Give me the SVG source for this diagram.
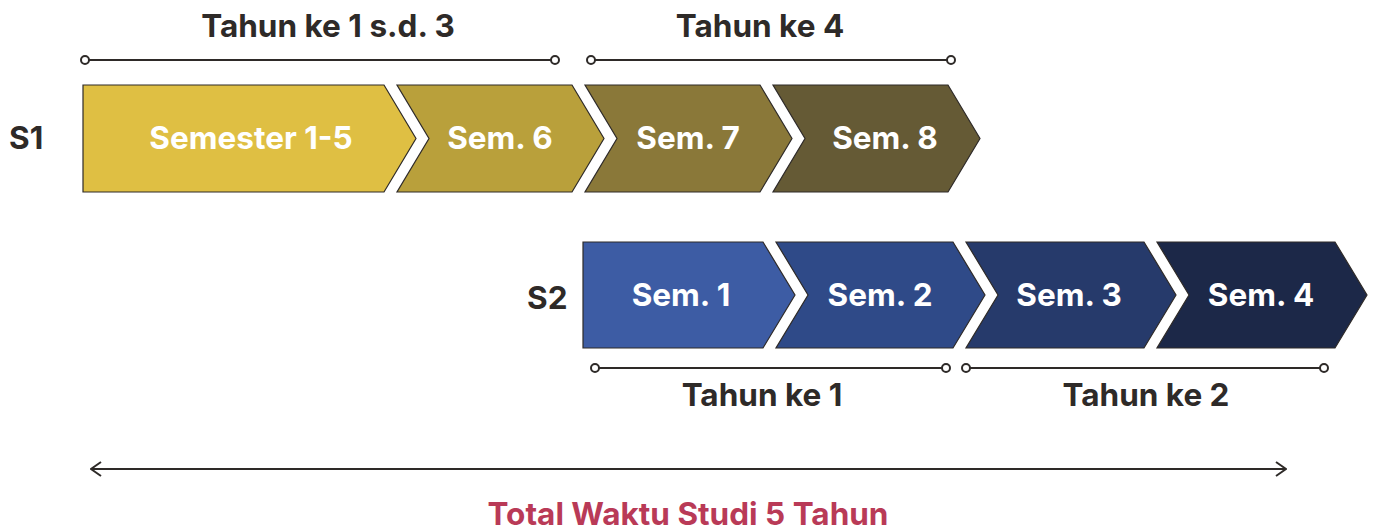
<svg xmlns="http://www.w3.org/2000/svg" width="1375" height="532" viewBox="0 0 1375 532">
<defs>
<style>
.chev{stroke:#2e2a28;stroke-width:1.2}
.lbl{font-family:Inter,"Liberation Sans",sans-serif;font-weight:700;font-size:31.5px;fill:#ffffff;text-anchor:middle}
.hdr{font-family:Inter,"Liberation Sans",sans-serif;font-weight:700;font-size:31.5px;fill:#2e2a28;text-anchor:middle}
.row{font-family:Inter,"Liberation Sans",sans-serif;font-weight:700;font-size:31.5px;fill:#2e2a28}
.tot{font-family:Inter,"Liberation Sans",sans-serif;font-weight:700;font-size:31.5px;fill:#b93a57;text-anchor:middle}
.brk{stroke:#2e2a28;stroke-width:2;fill:none}
.dot{stroke:#2e2a28;stroke-width:2;fill:#ffffff}
</style>
<marker id="ah" viewBox="0 0 12 16" refX="11" refY="8" markerWidth="12" markerHeight="16" markerUnits="userSpaceOnUse" orient="auto-start-reverse">
<path d="M1,1 L11,8 L1,15" fill="none" stroke="#2e2a28" stroke-width="2"/>
</marker>
</defs>
<rect width="1375" height="532" fill="#ffffff"/>

<text class="row" x="9" y="149">S1</text>
<text class="row" x="527" y="309">S2</text>

<g id="s1-sem1-5"><path class="chev" fill="#dfbf43" d="M83,85 L384,85 L416,138.5 L384,192 L83,192 Z"/><text class="lbl" x="251" y="149">Semester 1-5</text></g>
<g id="s1-sem6"><path class="chev" fill="#b9a03b" d="M397,85 L572,85 L604,138.5 L572,192 L397,192 L429,138.5 Z"/><text class="lbl" x="500" y="149">Sem. 6</text></g>
<g id="s1-sem7"><path class="chev" fill="#8a7839" d="M585,85 L760,85 L792,138.5 L760,192 L585,192 L617,138.5 Z"/><text class="lbl" x="688" y="149">Sem. 7</text></g>
<g id="s1-sem8"><path class="chev" fill="#655a35" d="M773,85 L948,85 L980,138.5 L948,192 L773,192 L805,138.5 Z"/><text class="lbl" x="885" y="149">Sem. 8</text></g>

<g id="s2-sem1"><path class="chev" fill="#3d5ca4" d="M583,242 L763,242 L795,295 L763,348 L583,348 Z"/><text class="lbl" x="681" y="306">Sem. 1</text></g>
<g id="s2-sem2"><path class="chev" fill="#2f4a88" d="M776,242 L953,242 L985,295 L953,348 L776,348 L808,295 Z"/><text class="lbl" x="880" y="306">Sem. 2</text></g>
<g id="s2-sem3"><path class="chev" fill="#263a6b" d="M966,242 L1144,242 L1176,295 L1144,348 L966,348 L998,295 Z"/><text class="lbl" x="1069" y="306">Sem. 3</text></g>
<g id="s2-sem4"><path class="chev" fill="#1c2848" d="M1157,242 L1335,242 L1367,295 L1335,348 L1157,348 L1189,295 Z"/><text class="lbl" x="1261" y="306">Sem. 4</text></g>

<g id="connectors">
<g id="brk-s1-y13"><line class="brk" x1="85" y1="60" x2="555" y2="60"/><circle class="dot" cx="85" cy="60" r="4"/><circle class="dot" cx="555" cy="60" r="4"/></g>
<g id="brk-s1-y4"><line class="brk" x1="591" y1="60" x2="951" y2="60"/><circle class="dot" cx="591" cy="60" r="4"/><circle class="dot" cx="951" cy="60" r="4"/></g>
<g id="brk-s2-y1"><line class="brk" x1="595" y1="368" x2="946" y2="368"/><circle class="dot" cx="595" cy="368" r="4"/><circle class="dot" cx="946" cy="368" r="4"/></g>
<g id="brk-s2-y2"><line class="brk" x1="966" y1="368" x2="1324" y2="368"/><circle class="dot" cx="966" cy="368" r="4"/><circle class="dot" cx="1324" cy="368" r="4"/></g>
<line id="total-arrow" x1="91" y1="469" x2="1286" y2="469" stroke="#2e2a28" stroke-width="2" marker-start="url(#ah)" marker-end="url(#ah)"/>
</g>

<text class="hdr" x="328" y="37">Tahun ke 1 s.d. 3</text>
<text class="hdr" x="760" y="37">Tahun ke 4</text>
<text class="hdr" x="762" y="406">Tahun ke 1</text>
<text class="hdr" x="1146" y="406">Tahun ke 2</text>
<text class="tot" x="688" y="525">Total Waktu Studi 5 Tahun</text>
</svg>
